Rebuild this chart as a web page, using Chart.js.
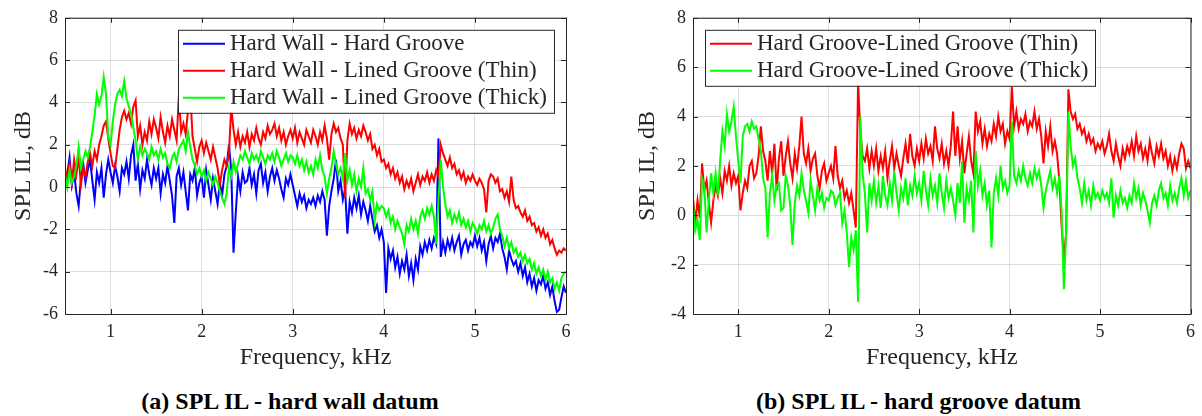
<!DOCTYPE html>
<html>
<head>
<meta charset="utf-8">
<title>SPL insertion loss</title>
<script src="https://cdn.jsdelivr.net/npm/chart.js@4.4.1/dist/chart.umd.min.js"></script>
<style>
  body { margin: 0; background: #fff; width: 1202px; height: 416px; position: relative; overflow: hidden; }
  canvas { position: absolute; top: 0; }
  #wallChart { left: 0; }
  #grooveChart { left: 624px; }
  .caption { position: absolute; top: 388px; font: bold 24px "Liberation Serif", "Times New Roman", serif; color: #000; text-align: center; white-space: nowrap; }
</style>
</head>
<body>
<canvas id="wallChart" width="590" height="380"></canvas>
<canvas id="grooveChart" width="578" height="380"></canvas>
<div class="caption" style="left:0;width:580px">(a) SPL IL - hard wall datum</div>
<div class="caption" style="left:618px;width:601px">(b) SPL IL - hard groove datum</div>
<script>
// frequency grid, kHz
const freqKHz = [
  0.5, 0.525, 0.55, 0.575, 0.6, 0.625, 0.65, 0.675, 0.7, 0.725, 0.75, 0.775, 0.8, 0.825, 0.85, 0.875, 0.9, 0.925, 0.95, 0.975,
  1.0, 1.025, 1.05, 1.075, 1.1, 1.125, 1.15, 1.175, 1.2, 1.225, 1.25, 1.275, 1.3, 1.325, 1.35, 1.375, 1.4, 1.425, 1.45, 1.475,
  1.5, 1.525, 1.55, 1.575, 1.6, 1.625, 1.65, 1.675, 1.7, 1.725, 1.75, 1.775, 1.8, 1.825, 1.85, 1.875, 1.9, 1.925, 1.95, 1.975,
  2.0, 2.025, 2.05, 2.075, 2.1, 2.125, 2.15, 2.175, 2.2, 2.225, 2.25, 2.275, 2.3, 2.325, 2.35, 2.375, 2.4, 2.425, 2.45, 2.475,
  2.5, 2.525, 2.55, 2.575, 2.6, 2.625, 2.65, 2.675, 2.7, 2.725, 2.75, 2.775, 2.8, 2.825, 2.85, 2.875, 2.9, 2.925, 2.95, 2.975,
  3.0, 3.025, 3.05, 3.075, 3.1, 3.125, 3.15, 3.175, 3.2, 3.225, 3.25, 3.275, 3.3, 3.325, 3.35, 3.375, 3.4, 3.425, 3.45, 3.475,
  3.5, 3.525, 3.55, 3.575, 3.6, 3.625, 3.65, 3.675, 3.7, 3.725, 3.75, 3.775, 3.8, 3.825, 3.85, 3.875, 3.9, 3.925, 3.95, 3.975,
  4.0, 4.025, 4.05, 4.075, 4.1, 4.125, 4.15, 4.175, 4.2, 4.225, 4.25, 4.275, 4.3, 4.325, 4.35, 4.375, 4.4, 4.425, 4.45, 4.475,
  4.5, 4.525, 4.55, 4.575, 4.6, 4.625, 4.65, 4.675, 4.7, 4.725, 4.75, 4.775, 4.8, 4.825, 4.85, 4.875, 4.9, 4.925, 4.95, 4.975,
  5.0, 5.025, 5.05, 5.075, 5.1, 5.125, 5.15, 5.175, 5.2, 5.225, 5.25, 5.275, 5.3, 5.325, 5.35, 5.375, 5.4, 5.425, 5.45, 5.475,
  5.5, 5.525, 5.55, 5.575, 5.6, 5.625, 5.65, 5.675, 5.7, 5.725, 5.75, 5.775, 5.8, 5.825, 5.85, 5.875, 5.9, 5.925, 5.95, 5.975,
  6.0
];

// (a) hard wall datum, dB
const wallHardGroove = [
  0.2, 0.6, 1.4, 0.1, 0.7, -0.3, -0.9, 0.4, 1.1, 0.2, 0.8, 1.3, 0.3, -0.6, 0.7, 0.2, 0.9, -0.5, 0.6, 1.3,
  0.7, 0.2, 1.0, 0.5, -0.2, 0.9, 0.6, 1.2, 0.4, 1.5, 2.0, 0.3, 1.1, -0.1, 0.8, 0.4, 1.3, 0.6, 0.1, 0.9,
  0.4, 0.9, -0.3, 0.6, 0.2, 1.0, 0.3, -0.4, -1.7, 0.5, 0.9, 0.1, 0.7, -0.2, -1.1, 0.6, 0.3, 0.9, -0.4, 0.2,
  0.5, -0.5, 0.8, 0.1, -0.6, 0.4, -0.2, -0.8, 0.2, -0.4, 0.6, 1.0, 2.0, 0.8, -3.1, -1.2, 0.5, -0.2, 0.7, 0.2,
  0.3, 0.9, 0.1, 0.6, -0.3, 0.8, 1.1, 0.2, 0.7, -0.2, 0.5, 0.9, 0.3, 0.8, 0.4, -0.1, -0.5, 0.4, 0.1, 0.6,
  0.1, -0.4, -0.9, -0.3, -0.7, -0.4, -1.0, -0.6, -0.8, -0.5, -0.9, -0.4, -0.7, -0.2, -0.6, -2.3, -0.9, -0.2, 0.4, 1.3,
  -0.2, 0.3, -0.6, -0.1, -2.2, -0.7, -1.2, -0.5, -1.0, -0.4, -1.3, -0.7, -1.1, -1.6, -0.9, -1.5, -2.1, -1.8, -2.4, -2.0,
  -2.6, -5.0, -2.9, -3.4, -3.0, -3.8, -3.3, -4.1, -3.5, -3.9, -3.2, -4.2, -3.6, -4.4, -3.4, -3.9, -2.8, -3.2, -2.6, -3.0,
  -2.5, -2.9, -2.4, -2.7, 2.3, -3.3, -2.6, -3.1, -2.5, -2.9, -2.4, -3.0, -2.6, -2.3, -3.2, -2.7, -2.5, -3.0, -2.6, -2.8,
  -2.3, -2.8, -2.4, -3.0, -2.6, -3.5, -2.7, -2.3, -2.9, -2.4, -2.6, -2.2, -2.9, -3.3, -3.9, -3.0, -3.4, -3.7, -3.5, -4.0,
  -3.6, -4.2, -3.8, -4.5, -4.1, -4.7, -4.3, -4.9, -4.4, -4.6, -4.2, -4.8, -4.5, -5.1, -4.7, -5.4, -5.9, -5.8, -5.2, -4.7,
  -5.0
];
const wallLinedThin = [
  0.9, 0.4, 1.1, 0.2, 1.3, 0.6, 1.4, 0.1, 0.9, 0.5, 1.2, 1.6, 1.0, 1.7, 1.3, 2.0, 2.4, 2.9, 3.1, 2.3,
  1.6, 1.0, 0.9, 1.8, 2.7, 3.3, 3.6, 3.2, 3.5, 3.0, 3.8, 4.1, 2.4, 2.9, 2.0, 2.6, 2.2, 3.1, 2.5, 3.2,
  2.8, 2.3, 3.3, 2.6, 2.1, 2.9, 2.4, 3.2, 2.7, 2.2, 4.3, 2.6, 3.0, 2.5, 3.6, 4.5, 2.4, 1.8, 1.2, 1.9,
  2.2, 1.6, 2.1, 1.7, 1.3, 1.9, 1.4, 0.9, 0.1, 0.8, 1.3, 1.0, 1.6, 3.8, 2.7, 2.0, 2.6, 1.9, 2.4, 2.1,
  2.6, 1.9, 2.5, 2.2, 2.8, 2.3, 2.0, 2.6, 2.3, 2.9, 2.5, 2.7, 3.0, 2.4, 2.8, 2.2, 2.6, 2.0, 2.4, 2.7,
  2.3, 2.8, 2.1, 2.6, 2.3, 2.0, 2.7, 2.4, 2.1, 2.7, 2.4, 2.0, 2.6, 2.2, 2.9, 2.3, 1.3, 2.5, 3.0, 2.6,
  2.8, 2.3, 2.0, -0.5, 2.2, 3.0, 2.5, 2.8, 2.3, 2.7, 2.4, 2.9, 2.6, 2.2, 2.5, 1.8, 2.0, 1.5, 1.8, 1.2,
  1.3, 0.9, 1.1, 0.6, 0.9, 0.4, 0.7, 0.2, 0.5, -0.1, 0.3, 0.0, 0.4, -0.2, 0.2, 0.6, 0.1, 0.5, 0.3, 0.7,
  0.2, 0.6, 0.3, 0.8, 0.5, 2.0, 1.6, 1.3, 1.0, 1.4, 0.9, 1.1, 0.6, 0.8, 0.4, 0.7, 0.2, 0.5, 0.3, 0.6,
  0.3, 0.1, 0.4, 0.2, -0.1, -1.2, 0.3, 0.6, 0.5, 0.2, 0.4, -0.2, -0.1, -0.5, -0.2, -0.7, 0.5, -0.6, -1.0, -0.9,
  -1.2, -1.4, -1.1, -1.6, -1.4, -1.8, -1.7, -2.1, -1.9, -2.3, -2.0, -2.4, -2.2, -2.7, -2.5, -2.9, -3.2, -3.0, -3.1, -2.9,
  -3.0
];
const wallLinedThick = [
  0.6, 0.0, 0.8, 0.2, 0.5, 1.0, 1.9, 0.9, 1.3, 1.7, 1.4, 1.9, 2.6, 3.4, 4.4, 3.9, 4.3, 5.2, 4.4, 2.4,
  2.0, 3.1, 3.9, 4.4, 4.6, 4.3, 5.0, 4.2, 3.8, 3.5, 2.8, 2.2, 1.3, 1.9, 1.5, 1.8, 1.6, 1.3, 1.9, 1.5,
  1.7, 1.3, 1.8, 1.4, 1.6, 1.1, 0.9, 1.4, 1.6, 1.2, 1.8, 2.0, 2.2, 1.7, 2.6, 1.9, 1.3, 1.0, 0.6, 0.9,
  0.5, 0.8, 0.3, 0.7, 0.4, 0.1, 0.5, 0.2, -0.2, -0.5, -0.8, -0.3, 0.9, 0.5, 1.2, 0.7, 1.1, 1.5, 1.3, 1.7,
  1.4, 1.1, 1.6, 1.3, 1.5, 1.2, 1.7, 1.4, 1.1, 1.5, 1.3, 1.6, 1.2, 1.7, 1.4, 1.0, 1.3, 1.6, 1.2, 1.5,
  1.4, 1.1, 1.5, 1.0, 1.3, 0.8, 1.2, 0.7, 1.0, 0.6, 1.3, 0.9, 1.5, 0.8, 0.5, -0.3, 0.4, 0.9, 1.7, 1.1,
  0.6, 0.9, 0.4, 1.6, 0.3, 0.8, 0.1, 0.6, -0.2, 0.4, 0.0, 0.9, -0.3, -0.1, -0.6, -0.2, -1.6, -0.8, -1.1, -0.9,
  -1.0, -1.4, -1.1, -1.7, -1.4, -2.0, -1.6, -1.9, -2.2, -2.7, -1.8, -2.1, -1.5, -2.0, -1.6, -2.2, -1.4, -1.1, -1.5, -1.0,
  -1.3, -0.9, -1.4, -2.7, -0.6, 1.3, 0.0, -0.8, -1.4, -1.1, -1.7, -1.3, -1.6, -1.2, -1.8, -1.5, -1.9, -1.6, -2.1, -1.7,
  -1.9, -2.2, -1.8, -2.0, -1.6, -2.1, -1.8, -2.2, -1.9, -1.5, -1.3, -2.0, -2.3, -2.8, -2.4, -2.9, -2.6, -3.1, -2.9, -3.3,
  -3.1, -3.5, -3.2, -3.6, -3.4, -3.9, -3.6, -4.1, -3.8, -4.2, -3.9, -4.4, -4.0, -4.5, -4.3, -4.8, -4.5, -4.9, -4.3, -4.1,
  -4.0
];

// (b) hard groove datum, dB
const grooveLinedThin = [
  0.7, -0.3, 0.6, -0.1, 2.1, 1.0, 1.4, 0.5, -0.3, 0.6, 1.2, 0.8, 1.5, 0.9, 1.8, 1.4, 2.0, 1.2, 1.7, 1.3,
  1.6, 0.2, 0.9, 1.4, 1.1, 2.0, 2.2, 1.5, 1.7, 2.4, 3.6, 2.6, 2.2, 1.4, 2.6, 1.7, 2.9, 1.0, 2.3, 3.0,
  1.6, 2.4, 3.0, 2.1, 1.5, 2.5, 1.9, 2.8, 4.0, 2.5, 2.1, 2.7, 1.8, 2.3, 2.5, 1.6, 1.1, 1.8, 2.1, 1.4,
  1.7, 2.0, 1.5, 2.8, 1.6, 1.1, 1.4, 0.7, 1.0, 0.5, 0.9, 0.2, -0.5, 5.4, 3.4, 2.4, 2.2, 2.7, 1.9, 2.6,
  2.0, 2.7, 1.8, 2.4, 1.9, 2.6, 1.5, 2.2, 2.8, 1.9, 2.5, 2.0, 1.6, 2.3, 2.9, 2.1, 3.3, 2.4, 2.0, 2.7,
  2.2, 2.9, 2.3, 3.1, 2.5, 2.8, 2.2, 3.6, 2.7, 2.3, 2.9, 2.1, 2.6, 2.0, 2.8, 4.2, 2.4, 3.6, 2.3, 3.0,
  1.7, 2.5, 3.2, 2.2, 1.7, 4.2, 3.4, 3.8, 2.9, 3.5, 2.8, 3.3, 3.0, 3.7, 3.2, 4.0, 3.4, 3.7, 2.9, 3.4,
  3.1, 5.2, 3.6, 4.2, 3.5, 3.9, 3.7, 4.1, 3.4, 3.8, 3.6, 4.2, 3.5, 3.9, 3.2, 2.1, 3.4, 2.8, 3.6, 2.6,
  3.0, 2.5, 1.4, -0.4, -1.8, -0.7, 5.1, 4.2, 3.9, 4.1, 3.5, 3.7, 3.3, 3.5, 3.0, 3.3, 2.9, 3.1, 2.6, 2.9,
  2.7, 3.0, 2.5, 2.8, 3.3, 2.6, 2.2, 2.9, 2.4, 2.0, 2.7, 2.3, 2.8, 2.5, 3.0, 2.4, 3.2, 2.6, 2.9, 2.3,
  2.7, 2.2, 3.0, 2.5, 2.1, 2.8, 2.4, 2.9, 2.3, 2.6, 2.0, 2.4, 1.8, 2.3, 1.9, 2.5, 2.9, 2.7, 1.9, 2.2,
  1.9
];
const grooveLinedThick = [
  0.5, -0.6, -0.2, -1.0, 1.5, 1.2, -0.7, 0.6, 1.7, 0.9, 1.7, 0.8, 2.2, 3.4, 2.8, 4.1, 3.4, 3.8, 4.4, 3.2,
  2.2, 1.3, 3.2, 3.6, 3.7, 3.4, 3.8, 3.5, 3.6, 3.1, 2.6, 1.5, 1.1, -0.9, 0.9, 1.6, 0.6, 1.2, 1.3, 0.2,
  0.3, 1.6, 1.2, 0.4, -1.2, 0.5, 1.2, 0.8, 1.7, 1.0, 0.6, 0.1, 1.4, 0.8, 0.2, 1.1, 0.6, 0.9, 0.3, 0.7,
  0.6, 1.0, 0.9, 0.4, 0.7, 0.9, -0.3, 0.2, -0.7, -2.1, -0.9, -1.4, -0.6, -3.5, 4.0, 1.7, 0.9, -0.7, 1.3, 0.6,
  1.4, 0.5, 1.2, 0.3, 1.6, 0.8, 0.4, 1.3, 0.6, 1.8, 0.9, 0.2, 1.1, 0.7, 1.5, 0.4, 1.2, 0.8, 1.6, 0.9,
  1.3, 0.6, 1.8, 1.0, 0.4, 1.5, 0.8, 1.2, 0.5, 1.7, 0.9, 0.3, 1.4, 0.7, 1.1, 0.6, 0.0, 1.3, 0.5, 2.2,
  -0.3, 1.1, 0.6, 1.4, -0.7, 2.6, 1.2, 1.8, 0.8, 1.3, 0.4, 1.0, -1.3, 0.9, 1.5, 0.8, 2.0, 1.1, 1.4, 0.9,
  1.2, 3.8, 1.6, 1.3, 1.8, 1.4, 2.0, 1.5, 1.2, 1.7, 1.3, 1.9, 1.5, 1.8, 1.2, 0.3, 1.0, 1.4, 1.8, 1.1,
  1.5, 0.9, 1.6, 0.2, -3.0, -0.7, 4.2, 2.8, 2.0, 2.3, 1.5, 1.1, 0.5, 1.3, 0.6, 1.0, 0.4, 1.2, 0.7, 0.9,
  0.6, 1.0, 0.7, 0.9, 0.5, 1.5, -0.1, 0.8, 0.4, 1.0, 0.5, 0.7, 0.3, 0.8, 0.5, 1.3, 0.7, 1.1, 0.4, 0.9,
  0.6, 0.2, -0.3, 0.5, 0.8, 0.4, 1.0, 1.3, 0.7, 0.9, 0.4, 1.2, 0.6, 0.9, 0.5, 1.1, 1.5, 0.8, 1.4, 0.7,
  1.0
];

const xTicks = [1, 2, 3, 4, 5, 6];
const yTicksWall = [-6, -4, -2, 0, 2, 4, 6, 8];
const yTicksGroove = [-4, -2, 0, 2, 4, 6, 8];

const INK = '#262626';
const GRID = 'rgba(38, 38, 38, 0.15)';
const SERIF = '"Liberation Serif", "Times New Roman", serif';
const BLUE = '#0000ff', RED = '#ff0000', GREEN = '#00ff00';

const toPoints = ys => ys.map((y, i) => ({ x: freqKHz[i], y }));

// box round the plot area with inward ticks, then the key on top of the lines
const axesFrame = {
  id: 'axesFrame',
  afterDatasetsDraw(chart, args, opts) {
    const ctx = chart.ctx;
    const { left, top, right, bottom } = chart.chartArea;
    const xs = chart.scales.x, ys = chart.scales.y;
    const tick = 5;
    ctx.save();
    ctx.strokeStyle = INK;
    ctx.lineWidth = 1;
    ctx.strokeRect(left + 0.5, top + 0.5, right - left, bottom - top);
    ctx.beginPath();
    xs.ticks.forEach(t => {
      const px = Math.round(xs.getPixelForValue(t.value)) + 0.5;
      ctx.moveTo(px, bottom); ctx.lineTo(px, bottom - tick);
      ctx.moveTo(px, top); ctx.lineTo(px, top + tick);
    });
    ys.ticks.forEach(t => {
      const py = Math.round(ys.getPixelForValue(t.value)) + 0.5;
      ctx.moveTo(left, py); ctx.lineTo(left + tick, py);
      ctx.moveTo(right, py); ctx.lineTo(right - tick, py);
    });
    ctx.stroke();

    // key
    const sets = chart.data.datasets;
    ctx.font = '23px ' + SERIF;
    const textW = Math.max(...sets.map(d => ctx.measureText(d.label).width));
    const w = Math.round(52 + textW + 7);
    const h = 29 + 27 * (sets.length - 1);
    const x0 = opts.anchor === 'right' ? right - 12 - w : left + 12;
    const y0 = top + 12;
    ctx.fillStyle = '#fff';
    ctx.fillRect(x0, y0, w, h);
    ctx.strokeStyle = INK;
    ctx.lineWidth = 1;
    ctx.strokeRect(x0 + 0.5, y0 + 0.5, w, h);
    ctx.textBaseline = 'middle';
    ctx.textAlign = 'left';
    sets.forEach((d, i) => {
      const y = y0 + 14 + 27 * i;
      ctx.strokeStyle = d.borderColor;
      ctx.lineWidth = 2;
      ctx.beginPath();
      ctx.moveTo(x0 + 5, y); ctx.lineTo(x0 + 47, y);
      ctx.stroke();
      ctx.fillStyle = INK;
      ctx.fillText(d.label, x0 + 52, y);
    });
    ctx.restore();
  }
};

function line(label, values, color, order) {
  return { label, data: toPoints(values), borderColor: color, borderWidth: 2, pointRadius: 0, tension: 0, fill: false, order };
}

function makeChart(canvasId, datasets, yRange, yTicks, axisWidth, padRight, anchor) {
  return new Chart(document.getElementById(canvasId), {
    type: 'line',
    data: { datasets },
    options: {
      responsive: false,
      animation: false,
      events: [],
      layout: { padding: { top: 17, right: padRight, bottom: 0, left: 0 } },
      plugins: {
        legend: { display: false },
        tooltip: { enabled: false },
        axesFrame: { anchor }
      },
      scales: {
        x: {
          type: 'linear', min: 0.5, max: 6,
          afterBuildTicks: s => { s.ticks = xTicks.map(value => ({ value })); },
          afterFit: s => { s.height = 66; },
          grid: { color: GRID, drawTicks: false },
          border: { display: false },
          ticks: { color: INK, font: { family: SERIF, size: 18 }, padding: 7, maxRotation: 0 },
          title: { display: true, text: 'Frequency, kHz', color: INK, font: { family: SERIF, size: 24 }, padding: { top: 0, bottom: 8 } }
        },
        y: {
          type: 'linear', min: yRange[0], max: yRange[1],
          afterBuildTicks: s => { s.ticks = yTicks.map(value => ({ value })); },
          afterFit: s => { s.width = axisWidth; },
          grid: { color: GRID, drawTicks: false },
          border: { display: false },
          ticks: { color: INK, font: { family: SERIF, size: 18 }, padding: 7 },
          title: { display: true, text: 'SPL IL, dB', color: INK, font: { family: SERIF, size: 24 }, padding: { top: 9, bottom: 0 } }
        }
      }
    },
    plugins: [axesFrame]
  });
}

makeChart('wallChart', [
  line('Hard Wall - Hard Groove', wallHardGroove, BLUE, 2),
  line('Hard Wall - Lined Groove (Thin)', wallLinedThin, RED, 1),
  line('Hard Wall - Lined Groove (Thick)', wallLinedThick, GREEN, 0)
], [-6, 8], yTicksWall, 65, 24, 'right');

makeChart('grooveChart', [
  line('Hard Groove-Lined Groove (Thin)', grooveLinedThin, RED, 1),
  line('Hard Groove-Lined Groove (Thick)', grooveLinedThick, GREEN, 0)
], [-4, 8], yTicksGroove, 69, 8, 'left');
</script>
</body>
</html>
